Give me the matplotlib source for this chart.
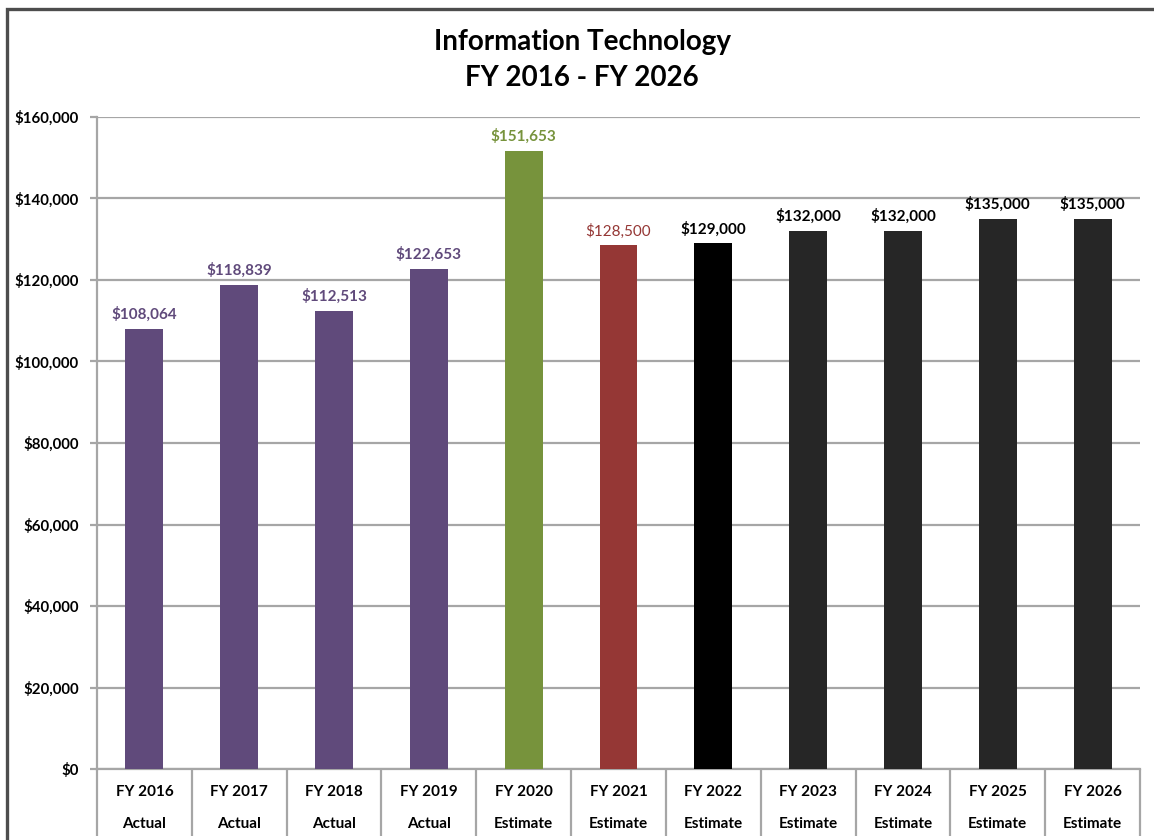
import matplotlib
matplotlib.use("Agg")
import matplotlib.pyplot as plt
import matplotlib.transforms as mtransforms
from matplotlib.patches import Rectangle
from matplotlib.ticker import FuncFormatter, MultipleLocator

plt.rcParams['font.family'] = ['Lato', 'DejaVu Sans']

# data
years = ['FY 2016', 'FY 2017', 'FY 2018', 'FY 2019', 'FY 2020', 'FY 2021',
         'FY 2022', 'FY 2023', 'FY 2024', 'FY 2025', 'FY 2026']
kinds = ['Actual', 'Actual', 'Actual', 'Actual', 'Estimate', 'Estimate',
         'Estimate', 'Estimate', 'Estimate', 'Estimate', 'Estimate']
values = [108064, 118839, 112513, 122653, 151653, 128500,
          129000, 132000, 132000, 135000, 135000]
bar_colours = ['#604A7B'] * 4 + ['#77933C', '#953735', '#000000'] + ['#262626'] * 4
label_colours = ['#604A7B'] * 4 + ['#77933C', '#953735'] + ['#000000'] * 5

fig = plt.figure(figsize=(11.54, 8.4), dpi=100)

# outer frame of the chart (cut at the right and bottom like the screenshot)
fig.patches.append(Rectangle((7 / 1154, -0.05), 1.1, 1 - 9 / 840 + 0.05,
                             transform=fig.transFigure, fill=False,
                             edgecolor='#4d4d4d', linewidth=2.4))

ax = fig.add_axes([97 / 1154, 71 / 840, (1140 - 97) / 1154, (769 - 117) / 840])

x = list(range(len(years)))
ax.bar(x, values, width=0.4, color=bar_colours, zorder=3)

for xi, v, c in zip(x, values, label_colours):
    weight = 'normal' if c == '#953735' else 'bold'
    ax.annotate('${:,.0f}'.format(v), (xi, v), xytext=(0, 5),
                textcoords='offset points', ha='center', va='bottom',
                fontsize=11, color=c, fontweight=weight)

ax.set_xlim(-0.5, len(years) - 0.5)
ax.set_ylim(0, 160000)
ax.yaxis.set_major_locator(MultipleLocator(20000))
ax.yaxis.set_major_formatter(FuncFormatter(lambda v, p: '${:,.0f}'.format(v)))
ax.grid(axis='y', color='#a6a6a6', linewidth=1.6, zorder=0)

for s in ['top', 'right']:
    ax.spines[s].set_visible(False)
for s in ['left', 'bottom']:
    ax.spines[s].set_color('#a6a6a6')
    ax.spines[s].set_linewidth(1.6)

ax.tick_params(axis='y', length=5, color='#a6a6a6', width=1.6, pad=8,
               labelsize=10.8)
for lab in ax.get_yticklabels():
    lab.set_fontweight('bold')

# category separators running down through the two label rows
ax.set_xticks([i - 0.5 for i in range(len(years) + 1)])
ax.set_xticklabels([])
ax.tick_params(axis='x', length=48, color='#a6a6a6', width=1.6)

trans = mtransforms.blended_transform_factory(ax.transData, ax.transAxes)
h = (769 - 117)
for xi, yr, k in zip(x, years, kinds):
    ax.text(xi, -23 / h, yr, transform=trans, ha='center', va='center',
            fontsize=11, fontweight='bold')
    ax.text(xi, -55 / h, k, transform=trans, ha='center', va='center',
            fontsize=11, fontweight='bold')

fig.text(582 / 1154, 1 - 60 / 840, 'Information Technology\nFY 2016 - FY 2026',
         ha='center', va='center', fontsize=20, fontweight='bold',
         linespacing=1.45)

fig.savefig('out.png', dpi=100)
